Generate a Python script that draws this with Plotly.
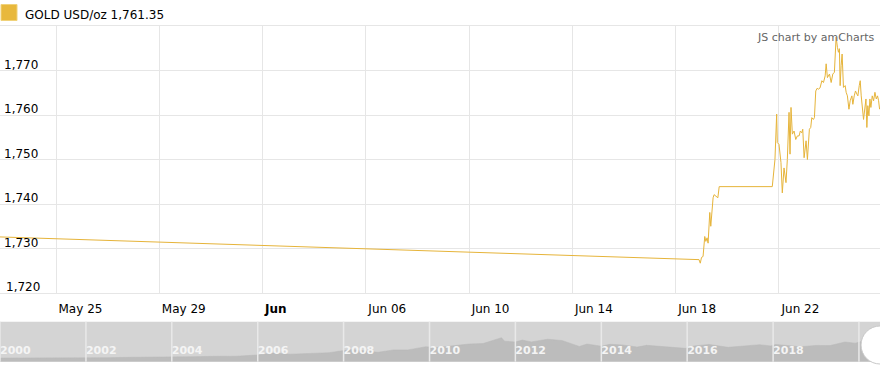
import plotly.graph_objects as go

# ---------------- data ----------------
GOLD = "#e6b43a"
legend_label = "GOLD USD/oz 1,761.35"

main_times = [
    "2020-05-22 19:56", "2020-06-18 21:40", "2020-06-18 22:50", "2020-06-19 00:00",
    "2020-06-19 01:25", "2020-06-19 03:00", "2020-06-19 04:00", "2020-06-19 05:10",
    "2020-06-19 06:05", "2020-06-19 07:40", "2020-06-19 08:35", "2020-06-19 09:30",
    "2020-06-19 10:45", "2020-06-19 11:40", "2020-06-19 13:15", "2020-06-19 15:10",
    "2020-06-19 16:25", "2020-06-21 17:45", "2020-06-21 20:15", "2020-06-21 21:50",
    "2020-06-21 22:25", "2020-06-22 00:00", "2020-06-22 01:50", "2020-06-22 03:05",
    "2020-06-22 04:40", "2020-06-22 05:35", "2020-06-22 06:30", "2020-06-22 07:45",
    "2020-06-22 09:20", "2020-06-22 10:15", "2020-06-22 11:10", "2020-06-22 12:25",
    "2020-06-22 14:00", "2020-06-22 15:35", "2020-06-22 17:05", "2020-06-22 18:40",
    "2020-06-22 19:50", "2020-06-22 21:10", "2020-06-22 22:05", "2020-06-22 23:20",
    "2020-06-23 00:15", "2020-06-23 01:10", "2020-06-23 02:25", "2020-06-23 03:20",
    "2020-06-23 04:15", "2020-06-23 05:30", "2020-06-23 06:30", "2020-06-23 08:00",
    "2020-06-23 08:55", "2020-06-23 10:10", "2020-06-23 11:25", "2020-06-23 12:35",
    "2020-06-23 14:10", "2020-06-23 15:50", "2020-06-23 17:20", "2020-06-23 18:55",
    "2020-06-23 19:50", "2020-06-23 21:00", "2020-06-23 22:55", "2020-06-24 00:30",
    "2020-06-24 02:00", "2020-06-24 03:30", "2020-06-24 05:05", "2020-06-24 06:20",
    "2020-06-24 07:15", "2020-06-24 08:10", "2020-06-24 08:50", "2020-06-24 09:45",
    "2020-06-24 10:40", "2020-06-24 11:55", "2020-06-24 13:30", "2020-06-24 14:25",
    "2020-06-24 15:35", "2020-06-24 17:00", "2020-06-24 18:10", "2020-06-24 19:45",
    "2020-06-24 20:40", "2020-06-24 21:55", "2020-06-24 23:05", "2020-06-25 00:25",
    "2020-06-25 01:20", "2020-06-25 02:35", "2020-06-25 03:30", "2020-06-25 04:25",
    "2020-06-25 05:35", "2020-06-25 06:35", "2020-06-25 07:30", "2020-06-25 08:50",
    "2020-06-25 09:40", "2020-06-25 10:35", "2020-06-25 11:35", "2020-06-25 12:30",
    "2020-06-25 13:25", "2020-06-25 14:40", "2020-06-25 15:55", "2020-06-25 17:10",
    "2020-06-25 18:25", "2020-06-25 19:35", "2020-06-25 20:35", "2020-06-25 21:30",
]
main_values = [
    1732.6, 1727.5, 1726.7, 1728.0,
    1728.2, 1732.7, 1731.6, 1732.4,
    1731.2, 1738.1, 1735.0, 1738.4,
    1741.4, 1742.1, 1741.7, 1741.4,
    1743.9, 1743.9, 1750.0, 1760.2,
    1753.8, 1753.4, 1749.3, 1742.5,
    1748.1, 1746.3, 1744.8, 1750.0,
    1760.6, 1751.2, 1761.7, 1755.7,
    1756.4, 1754.5, 1755.3, 1755.3,
    1756.4, 1756.0, 1756.8, 1750.4,
    1753.0, 1754.2, 1750.0, 1752.7,
    1756.8, 1757.2, 1759.4, 1759.0,
    1759.4, 1765.4, 1766.0, 1765.8,
    1766.1, 1767.7, 1767.3, 1768.8,
    1771.5, 1768.4, 1769.2, 1767.3,
    1769.2, 1769.6, 1777.5, 1775.2,
    1774.1, 1774.9, 1766.6, 1771.1,
    1773.7, 1766.2, 1766.6, 1765.1,
    1764.3, 1761.3, 1763.2, 1764.3,
    1762.4, 1764.3, 1765.4, 1764.7,
    1764.3, 1766.6, 1767.7, 1764.3,
    1761.7, 1759.0, 1760.9, 1763.6,
    1757.2, 1762.1, 1759.8, 1763.6,
    1761.7, 1764.3, 1763.2, 1765.1,
    1763.6, 1764.3, 1763.2, 1761.3,
]

x_tick_dates = ["2020-05-25", "2020-05-29", "2020-06-02", "2020-06-06",
                "2020-06-10", "2020-06-14", "2020-06-18", "2020-06-22"]
x_tick_labels = ["May 25", "May 29", "<b>Jun</b>", "Jun 06",
                 "Jun 10", "Jun 14", "Jun 18", "Jun 22"]
y_tick_values = [1720, 1730, 1740, 1750, 1760, 1770]
y_tick_labels = ["1,720", "1,730", "1,740", "1,750", "1,760", "1,770"]

# long-history overview for the scrollbar
scroll_times = [
    "2000-01-01", "2000-07-01", "2001-01-01", "2001-07-01", "2002-01-01", "2002-07-01",
    "2003-01-01", "2003-07-01", "2004-01-01", "2004-07-01", "2005-01-01", "2005-07-01",
    "2006-01-01", "2006-05-15", "2006-10-01", "2007-03-01", "2007-09-01", "2008-01-01",
    "2008-03-15", "2008-10-20", "2009-03-01", "2009-07-01", "2009-12-01", "2010-03-01",
    "2010-07-01", "2010-12-01", "2011-04-01", "2011-09-05", "2011-10-01", "2011-12-28",
    "2012-03-01", "2012-05-15", "2012-10-01", "2013-02-01", "2013-06-28", "2013-09-01",
    "2014-01-01", "2014-03-15", "2014-07-01", "2014-11-01", "2015-01-20", "2015-07-01",
    "2015-12-17", "2016-03-01", "2016-07-05", "2016-12-15", "2017-06-01", "2017-09-08",
    "2017-12-12", "2018-01-25", "2018-08-16", "2018-12-31", "2019-05-01", "2019-09-04",
    "2019-12-01", "2020-02-24", "2020-03-19", "2020-04-14", "2020-05-18", "2020-06-26",
]
scroll_values = [
    285, 285, 265, 270, 280, 315,
    345, 350, 410, 395, 425, 430,
    530, 680, 590, 650, 710, 880,
    960, 740, 930, 930, 1180, 1110,
    1240, 1390, 1430, 1890, 1620, 1550,
    1700, 1560, 1770, 1670, 1200, 1390,
    1220, 1370, 1320, 1150, 1290, 1160,
    1050, 1240, 1360, 1130, 1260, 1340,
    1240, 1360, 1175, 1280, 1270, 1550,
    1460, 1680, 1480, 1720, 1760, 1762,
]
scroll_years = ["2000", "2002", "2004", "2006", "2008", "2010",
                "2012", "2014", "2016", "2018", "2020"]

# ---------------- figure ----------------
W, H = 880, 369
FONT = "DejaVu Sans"
LABEL_LIFT = 6


def py(pix):
    return (H - pix) / H


fig = go.Figure()
fig.add_trace(go.Scatter(
    x=main_times, y=main_values, mode="lines",
    line=dict(color=GOLD, width=1), xaxis="x", yaxis="y",
    hoverinfo="skip", showlegend=False))
fig.add_trace(go.Scatter(
    x=scroll_times, y=scroll_values, mode="lines", fill="tozeroy",
    fillcolor="#bcbcbc", line=dict(color="#b8b8b8", width=0.5),
    xaxis="x2", yaxis="y2", hoverinfo="skip", showlegend=False))

shapes = [
    # scrollbar background
    dict(type="rect", xref="x2 domain", yref="y2 domain", x0=0, x1=1, y0=0, y1=1,
         fillcolor="#d4d4d4", line=dict(width=0), layer="below"),
    # legend marker
    dict(type="rect", xref="paper", yref="paper", x0=1 / W, x1=17 / W,
         y0=py(20.5), y1=py(4.5), fillcolor="#e8b83c",
         line=dict(color="#f0d27a", width=1)),
]
for yr in scroll_years:
    shapes.append(dict(type="line", xref="x2", yref="y2 domain",
                       x0=yr + "-01-01", x1=yr + "-01-01", y0=0, y1=1,
                       line=dict(color="#e9e9e9", width=1.5), layer="above"))
# scrollbar handle
shapes.append(dict(type="circle", xref="paper", yref="paper",
                   x0=861 / W, x1=899 / W, y0=py(364), y1=py(326),
                   fillcolor="white", line=dict(color="#c8c8c8", width=1)))

annotations = [
    dict(text=legend_label, xref="paper", yref="paper", x=22.5 / W, y=py(15),
         xanchor="left", yanchor="middle", showarrow=False,
         font=dict(family=FONT, size=12, color="#000")),
    dict(text="JS chart by amCharts", xref="paper", yref="paper", x=876 / W, y=py(37),
         xanchor="right", yanchor="middle", showarrow=False,
         font=dict(family=FONT, size=11, color="#666")),
    # lowest y tick label (plotly hides inside labels sitting on the axis edge)
    dict(text=y_tick_labels[0], xref="paper", yref="y", x=4 / W, y=y_tick_values[0],
         xanchor="left", yanchor="middle", yshift=LABEL_LIFT, showarrow=False,
         font=dict(family=FONT, size=12, color="#000")),
]

fig.update_layout(
    width=W, height=H, margin=dict(l=0, r=0, t=0, b=0),
    paper_bgcolor="white", plot_bgcolor="white",
    shapes=shapes, annotations=annotations,
    xaxis=dict(
        type="date", domain=[0, 1], anchor="y",
        range=["2020-05-22 19:56", "2020-06-25 21:53"],
        tickmode="array", tickvals=x_tick_dates, ticktext=x_tick_labels,
        ticklabelposition="outside right", ticks="", ticklabelstandoff=5,
        ticklabelshift=2,
        tickfont=dict(family=FONT, size=12, color="#000"),
        showgrid=True, gridcolor="#e6e6e6", gridwidth=1,
        showline=True, mirror=True, linecolor="#e6e6e6", linewidth=1,
        zeroline=False, automargin=False, fixedrange=True,
    ),
    yaxis=dict(
        domain=[py(293), py(26)], anchor="x",
        range=[1720, 1780],
        tickmode="array", tickvals=y_tick_values, ticktext=y_tick_labels,
        ticklabelposition="inside", ticks="", ticklabelshift=-LABEL_LIFT,
        ticklabelstandoff=1,
        tickfont=dict(family=FONT, size=12, color="#000"),
        showgrid=True, gridcolor="#e6e6e6", gridwidth=1,
        zeroline=False, showline=False, automargin=False, fixedrange=True,
    ),
    xaxis2=dict(
        type="date", domain=[0, 1], anchor="y2",
        range=["2000-01-01", "2020-06-28"],
        tickmode="array", tickvals=[y + "-01-01" for y in scroll_years],
        ticktext=["<b>" + y + "</b>" for y in scroll_years],
        ticklabelposition="inside right", ticks="", ticklabelstandoff=0,
        tickfont=dict(family=FONT, size=11, color="#f4f4f4"),
        showgrid=False, zeroline=False, showline=False,
        automargin=False, fixedrange=True, layer="above traces",
    ),
    yaxis2=dict(
        domain=[py(361.7), py(321.7)], anchor="x2",
        range=[0, 3150], visible=False, fixedrange=True,
    ),
)

fig.write_html("out.html", config={"displayModeBar": False})
